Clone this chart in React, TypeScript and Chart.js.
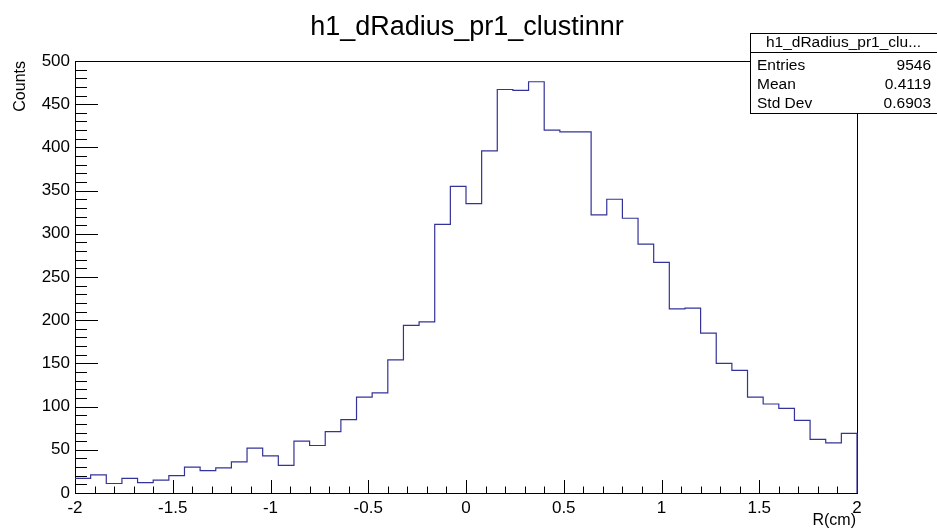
import { useEffect, useRef } from "react";
import { Chart, registerables } from "chart.js";

Chart.register(...registerables);

// ---- data ----
const title = "h1_dRadius_pr1_clustinnr";
const xAxisTitle = "R(cm)";
const yAxisTitle = "Counts";
const xMin = -2;
const xMax = 2;
const binWidth = 0.08;
const counts = [
  17, 21, 11, 17, 12, 15, 20, 30, 26, 29,
  36, 52, 43, 32, 60, 55, 71, 85, 111, 116,
  154, 194, 198, 311, 355, 335, 396, 467, 466, 476,
  420, 418, 418, 322, 340, 318, 288, 267, 213, 214,
  185, 150, 142, 111, 103, 98, 84, 62, 58, 69,
];
const yMin = 0;
const yMax = 500;
const yMajorStep = 50;
const yMinorStep = 10;
const xMajorStep = 0.5;
const xMinorStep = 0.1;
const statsHeader = "h1_dRadius_pr1_clu...";
const statsLabels = ["Entries", "Mean", "Std Dev"];
const statsValues = ["9546", "0.4119", "0.6903"];

const FONT = "'Liberation Sans', Arial, Helvetica, sans-serif";
const LINE_COLOR = "#333399";

function fmt(v: number): string {
  const r = Math.round(v * 1000) / 1000;
  return String(r);
}

const rootPlugin = {
  id: "rootDecor",
  beforeDatasetsDraw(chart: any) {
    const { ctx, chartArea } = chart;
    const { left, right, top, bottom } = chartArea;
    const xs = chart.scales.x;
    const ys = chart.scales.y;
    ctx.save();
    ctx.strokeStyle = "#000";
    ctx.lineWidth = 1;
    // frame
    ctx.strokeRect(Math.round(left) + 0.5, Math.round(top) + 0.5, Math.round(right - left), Math.round(bottom - top));
    // y ticks (inside)
    ctx.beginPath();
    const nY = Math.round((yMax - yMin) / yMinorStep);
    for (let i = 0; i <= nY; i++) {
      const v = yMin + i * yMinorStep;
      const py = Math.round(ys.getPixelForValue(v)) + 0.5;
      const major = Math.abs(v / yMajorStep - Math.round(v / yMajorStep)) < 1e-6;
      const len = major ? 23 : 12;
      ctx.moveTo(left, py);
      ctx.lineTo(left + len, py);
    }
    // x ticks (inside)
    const nX = Math.round((xMax - xMin) / xMinorStep);
    for (let i = 0; i <= nX; i++) {
      const v = xMin + i * xMinorStep;
      const px = Math.round(xs.getPixelForValue(v)) + 0.5;
      const major = Math.abs(v / xMajorStep - Math.round(v / xMajorStep)) < 1e-6;
      const len = major ? 13 : 6.5;
      ctx.moveTo(px, bottom);
      ctx.lineTo(px, bottom - len);
    }
    ctx.stroke();
    ctx.restore();
  },
  afterDraw(chart: any) {
    const { ctx, chartArea } = chart;
    const { right, top } = chartArea;
    ctx.save();
    ctx.fillStyle = "#000";
    // title
    ctx.font = `27px ${FONT}`;
    ctx.textAlign = "center";
    ctx.textBaseline = "alphabetic";
    ctx.fillText(title, 467, 35);
    // x axis title
    ctx.font = `16px ${FONT}`;
    ctx.textAlign = "right";
    ctx.fillText(xAxisTitle, right - 1, 525);
    // y axis title
    ctx.save();
    ctx.translate(21, top);
    ctx.rotate(-Math.PI / 2);
    ctx.textAlign = "right";
    ctx.textBaseline = "middle";
    ctx.fillText(yAxisTitle, 0, 0);
    ctx.restore();
    // stats box
    const bx = 750.5, by = 33.5, bw = 200, bh = 80;
    ctx.fillStyle = "#fff";
    ctx.fillRect(bx, by, bw, bh);
    ctx.strokeStyle = "#000";
    ctx.lineWidth = 1;
    ctx.strokeRect(bx, by, bw, bh);
    ctx.beginPath();
    ctx.moveTo(bx, 52.5);
    ctx.lineTo(bx + bw, 52.5);
    ctx.stroke();
    ctx.fillStyle = "#000";
    ctx.font = `15.5px ${FONT}`;
    ctx.textBaseline = "middle";
    ctx.textAlign = "center";
    ctx.fillText(statsHeader, 843.5, 43);
    const rowY = [66, 85, 104];
    statsLabels.forEach((lab, i) => {
      ctx.textAlign = "left";
      ctx.fillText(lab, 757, rowY[i]);
      ctx.textAlign = "right";
      ctx.fillText(statsValues[i], 931, rowY[i]);
    });
    ctx.restore();
  },
};

export default function App() {
  const ref = useRef<HTMLCanvasElement | null>(null);
  useEffect(() => {
    if (!ref.current) return;
    const pts: { x: number; y: number }[] = counts.map((c, i) => ({ x: xMin + i * binWidth, y: c }));
    pts.push({ x: xMax, y: counts[counts.length - 1] });
    pts.push({ x: xMax, y: 0 });
    const chart = new Chart(ref.current, {
      type: "line",
      data: {
        datasets: [
          {
            data: pts,
            stepped: "before",
            borderColor: LINE_COLOR,
            borderWidth: 1.2,
            pointRadius: 0,
            fill: false,
            clip: false,
          } as any,
        ],
      },
      options: {
        animation: false,
        responsive: false,
        devicePixelRatio: 1,
        layout: { padding: { top: 61, right: 80, bottom: 0, left: 0 } },
        plugins: { legend: { display: false }, title: { display: false }, tooltip: { enabled: false } },
        scales: {
          x: {
            type: "linear",
            min: xMin,
            max: xMax,
            grid: { display: false, drawTicks: false },
            border: { display: false },
            ticks: {
              stepSize: xMajorStep,
              autoSkip: false,
              maxRotation: 0,
              padding: 5,
              color: "#000",
              font: { family: FONT, size: 17 },
              callback: (v: any) => fmt(Number(v)),
            },
            afterFit: (s: any) => {
              s.height = 37;
            },
          },
          y: {
            type: "linear",
            min: yMin,
            max: yMax,
            grid: { display: false, drawTicks: false },
            border: { display: false },
            ticks: {
              stepSize: yMajorStep,
              padding: 5,
              color: "#000",
              font: { family: FONT, size: 17 },
              callback: (v: any) => fmt(Number(v)),
            },
            afterFit: (s: any) => {
              s.width = 75;
            },
          },
        },
      },
      plugins: [rootPlugin],
    });
    return () => chart.destroy();
  }, []);
  return (
    <div style={{ position: "fixed", left: 0, top: 0, width: 937, height: 530, background: "#fff" }}>
      <canvas ref={ref} width={937} height={530} style={{ display: "block" }} />
    </div>
  );
}
